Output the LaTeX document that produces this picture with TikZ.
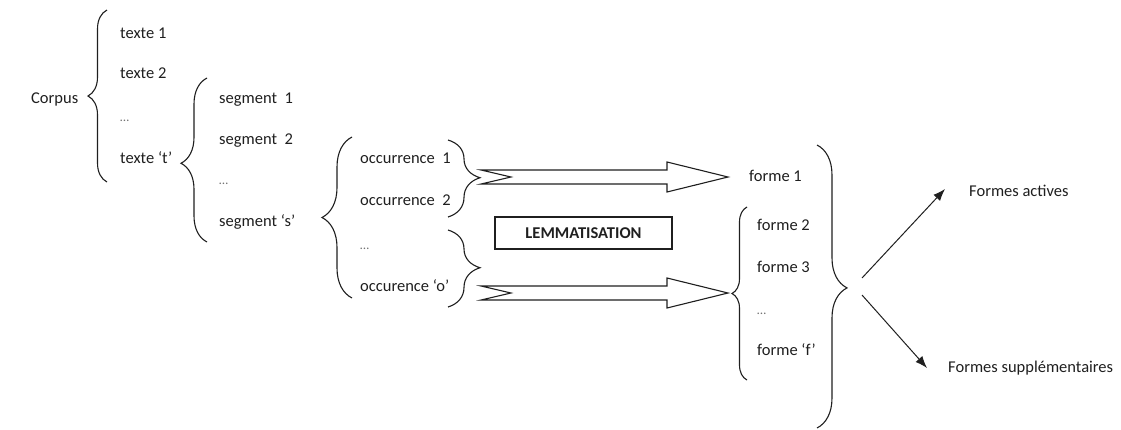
\documentclass[tikz,border=0pt]{standalone}
\usepackage{fontspec}
\setmainfont{Carlito}
\usetikzlibrary{decorations.pathreplacing,calc,arrows.meta}
\definecolor{ink}{gray}{0.12}
\definecolor{dotc}{gray}{0.45}
\begin{document}
\begin{tikzpicture}[x=1pt,y=-1pt,
  lbl/.style={anchor=base west,inner sep=0pt,font=\fontsize{16.5}{19}\selectfont,text=ink},
  dots/.style={anchor=base west,inner sep=0pt,font=\fontsize{13}{15}\selectfont,text=dotc},
  brc/.style 2 args={decorate,decoration={brace,amplitude=#1,aspect=#2},line width=1.1pt,draw=ink},
  hollow/.style={draw=ink,line width=1.1pt,line join=miter},
  thin/.style={draw=ink,line width=1pt,-{Latex[length=12pt,width=9pt]}},
  lemma/.style={draw=ink,line width=1.3pt,minimum width=177pt,minimum height=32pt,inner sep=0pt,font=\fontsize{16.5}{18}\selectfont\bfseries,text=ink}
]
\useasboundingbox (0,0) rectangle (1121,429);

% texts
\node[lbl] (corpus) at (31,103) {Corpus};
\node[lbl] (t1) at (120,38) {texte 1};
\node[lbl] (t2) at (120,78) {texte 2};
\node[dots] (tdots) at (120,121) {…};
\node[lbl] (tt) at (120,163) {texte ‘t’};

\node[lbl] (s1) at (219,103) {segment~~1};
\node[lbl] (s2) at (219,144) {segment~~2};
\node[dots] (sdots) at (219,184) {…};
\node[lbl] (ss) at (219,226) {segment ‘s’};

\node[lbl] (o1) at (360,163) {occurrence~~1};
\node[lbl] (o2) at (360,205) {occurrence~~2};
\node[dots] (odots) at (360,249) {…};
\node[lbl] (oo) at (360,291) {occurence ‘o’};

\node[lbl] (f1) at (749,181) {forme 1};
\node[lbl] (f2) at (757,230) {forme 2};
\node[lbl] (f3) at (757,272) {forme 3};
\node[dots] (fdots) at (757,314) {…};
\node[lbl] (ff) at (757,355) {forme ‘f’};

\node[lbl] (fa) at (969,196) {Formes actives};
\node[lbl] (fs) at (948,372) {Formes supplémentaires};

\node[lemma] (lem) at (583.5,233) {LEMMATISATION};

% braces
\draw[brc={19pt}{0.5}] (107,182) -- (107,10);
\draw[brc={26pt}{0.48}] (207,242) -- (207,78);
\draw[brc={30pt}{0.5}] (352,298) -- (352,137);
\draw[brc={32pt}{0.49}] (448,140) -- (448,217);
\draw[brc={32pt}{0.49}] (448,230) -- (448,307);
\draw[brc={15pt}{0.5}] (747,380) -- (747,207);
\draw[brc={30pt}{0.505}] (817,145) -- (817,428);

% notched arrows
\coordinate (a1s) at (481,177);
\coordinate (a1e) at (728,177);
\coordinate (a2s) at (481,293);
\coordinate (a2e) at (728,293);
\foreach \s/\e in {a1s/a1e,a2s/a2e}{
  \draw[hollow] ($(\s)+(0,-7)$) -- ($(\e)+(-61,-7)$) -- ($(\e)+(-61,-15)$) -- (\e)
    -- ($(\e)+(-61,15)$) -- ($(\e)+(-61,7)$) -- ($(\s)+(0,7)$) -- ($(\s)+(30,0)$) -- cycle;
}

% split arrows
\coordinate (up0) at (862,278);
\coordinate (up1) at (945,189);
\coordinate (dn0) at (862,295);
\coordinate (dn1) at (927,368);
\draw[thin] (up0) -- (up1);
\draw[thin] (dn0) -- (dn1);
\end{tikzpicture}
\end{document}
